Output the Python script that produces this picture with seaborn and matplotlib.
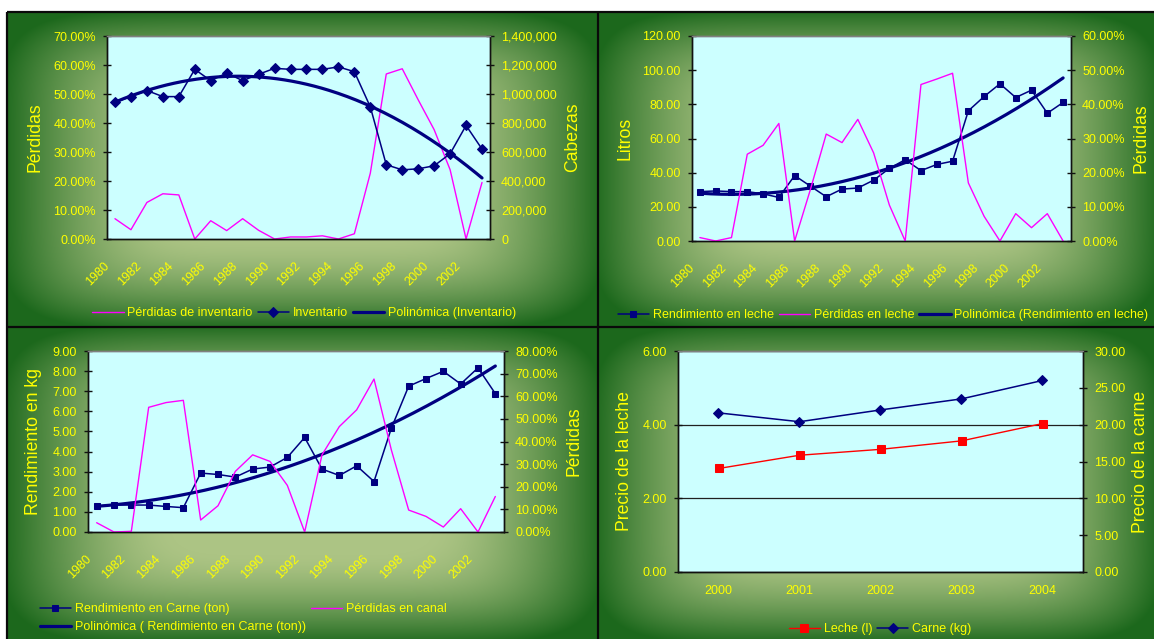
import numpy as np
import pandas as pd
import matplotlib
matplotlib.use("Agg")
import matplotlib.pyplot as plt
import seaborn as sns
from matplotlib.ticker import FixedLocator, PercentFormatter, FuncFormatter
from matplotlib.transforms import ScaledTranslation

# ---------------- data ----------------
years = list(range(1980, 2004))
inventario = [943000, 982000, 1024000, 982000, 982000, 1170000, 1092000, 1145000,
              1092000, 1136000, 1177000, 1170000, 1170000, 1170000, 1187000, 1154000,
              911000, 512000, 477000, 484000, 505000, 588000, 783000, 620000]
perdidas_inventario = [7.0, 3.2, 12.6, 15.6, 15.2, 0.0, 6.3, 2.9, 7.0, 3.0, 0.0, 0.7,
                       0.7, 1.1, 0.0, 1.8, 22.7, 56.9, 58.7, 48.0, 37.7, 23.9, 0.0, 19.5]
rend_leche = [28.9, 29.3, 28.9, 28.9, 27.6, 25.5, 38.3, 32.1, 25.9, 30.4, 31.0, 35.6,
              42.5, 47.6, 41.2, 44.8, 46.7, 76.2, 84.6, 92.0, 84.0, 88.3, 74.8, 81.1]
perdidas_leche = [1.0, 0.0, 1.0, 25.4, 28.0, 34.4, 0.0, 15.1, 31.3, 28.8, 35.6, 25.8,
                  10.5, 0.0, 45.8, 47.4, 49.1, 17.0, 7.2, 0.0, 8.0, 3.9, 8.0, 0.0]
rend_carne = [1.29, 1.34, 1.34, 1.34, 1.27, 1.21, 2.93, 2.86, 2.73, 3.13, 3.23, 3.71,
              4.70, 3.13, 2.81, 3.29, 2.51, 5.16, 7.25, 7.63, 7.99, 7.36, 8.16, 6.88]
perdidas_canal = [4.1, 0.0, 0.3, 55.1, 57.2, 58.2, 5.3, 11.6, 26.8, 34.1, 31.2, 20.6,
                  0.0, 34.1, 46.6, 54.0, 67.6, 36.3, 9.7, 6.9, 2.2, 10.3, 0.0, 15.7]
precio_years = [2000, 2001, 2002, 2003, 2004]
precio_leche = [2.81, 3.17, 3.33, 3.56, 4.03]
precio_carne = [21.6, 20.4, 22.0, 23.5, 26.0]

# ---------------- style ----------------
sns.set_style("white")
plt.rcParams["font.family"] = ["Liberation Sans", "DejaVu Sans"]

YEL = "#ffff00"
NAVY = "#000080"
PINK = "#ff00ff"
RED = "#ff0000"
PLOTBG = "#ccffff"

W, H = 1154, 639
fig = plt.figure(figsize=(W / 100, H / 100), dpi=100)

# ---------------- panel backgrounds ----------------
panels = [(7, 12, 598, 327), (598, 12, 1157, 327), (7, 327, 598, 642), (598, 327, 1157, 642)]
img = np.ones((H, W, 3))
yy, xx = np.mgrid[0:H, 0:W] + 0.5
light = np.array([172, 196, 132]) / 255
dark = np.array([28, 104, 28]) / 255
for (x0, y0, x1, y1) in panels:
    cx, cy = (x0 + x1) / 2, (y0 + y1) / 2
    hw, hh = (x1 - x0) / 2, (y1 - y0) / 2
    mask = (xx >= x0) & (xx < x1) & (yy >= y0) & (yy < y1)
    u = np.abs(xx - cx) / hw
    v = np.abs(yy - cy) / hh
    t = (u ** 6 + v ** 6) ** (1 / 6)
    s = np.clip((t - 0.45) / 0.57, 0, 1) ** 1.5
    col = light[None, None, :] * (1 - s[..., None]) + dark[None, None, :] * s[..., None]
    img[mask] = col[mask]

bg = fig.add_axes([0, 0, 1, 1], zorder=-10)
bg.imshow(img, extent=(0, W, H, 0), aspect="auto", interpolation="bilinear")
bg.set_xlim(0, W)
bg.set_ylim(H, 0)
bg.axis("off")
for (xa, ya, xb, yb) in [(7, 12, 7, H), (598, 12, 598, H), (7, 12, W, 12), (7, 327, W, 327)]:
    bg.plot([xa, xb], [ya, yb], color="#0a0a0a", lw=1.6, solid_capstyle="butt")


def px_axes(left, top, right, bottom):
    return fig.add_axes([left / W, 1 - bottom / H, (right - left) / W, (bottom - top) / H])


TICK_FS = 9
LAB_FS = 12.7
LEG_FS = 9


def style_axes(ax, ax2):
    ax.set_facecolor(PLOTBG)
    ax2.patch.set_visible(False)
    for a in (ax, ax2):
        for sp in a.spines.values():
            sp.set_color("#111111")
            sp.set_linewidth(1.0)
        a.spines["top"].set_color("#808080")
        a.tick_params(axis="y", direction="inout", length=6, width=1, color="#111111",
                      labelcolor=YEL, labelsize=TICK_FS, pad=5)
    ax.tick_params(axis="x", which="major", direction="inout", length=6, width=1,
                   color="#111111", labelbottom=False)
    ax2.tick_params(axis="x", which="both", bottom=False, labelbottom=False)


def year_axis(ax, n, labels, step, rotate=True):
    ax.set_xlim(-0.5, n - 0.5)
    ax.xaxis.set_major_locator(FixedLocator(np.arange(-0.5, n, 1.0)))
    ax.xaxis.set_minor_locator(FixedLocator(np.arange(0, n, step)))
    ax.set_xticklabels([str(labels[i]) for i in range(0, n, step)], minor=True)
    if rotate:
        ax.tick_params(axis="x", which="minor", length=0, labelcolor=YEL,
                       labelsize=TICK_FS, pad=15)
        for lab in ax.get_xticklabels(minor=True):
            lab.set_rotation(45)
            lab.set_ha("right")
            lab.set_va("top")
            lab.set_transform(lab.get_transform() + ScaledTranslation(-3 / 100, 0, fig.dpi_scale_trans))
    else:
        ax.tick_params(axis="x", which="minor", length=0, labelcolor=YEL,
                       labelsize=TICK_FS, pad=9.5)


def ylabels(ax, ax2, left_txt, right_txt, lx, rx):
    ax.set_ylabel(left_txt, color=YEL, fontsize=LAB_FS)
    ax2.set_ylabel(right_txt, color=YEL, fontsize=LAB_FS, rotation=90)
    ax.yaxis.set_label_coords(lx, 0.5)
    ax2.yaxis.set_label_coords(rx, 0.5)
    for lab in (ax.yaxis.label, ax2.yaxis.label):
        lab.set_va("center")
        lab.set_ha("center")
    ax.set_xlabel("")
    ax2.set_xlabel("")


def trend(x, y, deg=2, num=200):
    c = np.polyfit(x, y, deg)
    xf = np.linspace(x.min(), x.max(), num)
    return xf, np.polyval(c, xf)


pct_fmt = PercentFormatter(100, decimals=2)
f2 = FuncFormatter(lambda v, p: f"{v:.2f}")
comma = FuncFormatter(lambda v, p: f"{v:,.0f}")

pos = np.arange(len(years))
df = pd.DataFrame({"pos": pos, "anio": years, "inventario": inventario,
                   "perd_inv": perdidas_inventario, "leche": rend_leche,
                   "perd_leche": perdidas_leche, "carne": rend_carne,
                   "perd_canal": perdidas_canal})

LEG_KW = dict(loc="center", frameon=False, fontsize=LEG_FS, labelcolor=YEL,
              handlelength=2.5, handletextpad=0.3, columnspacing=0.4, borderpad=0,
              numpoints=1)

# ================= Panel 1: Inventario =================
ax = px_axes(107, 36, 490, 239)
ax2 = ax.twinx()
sns.lineplot(data=df, x="pos", y="perd_inv", ax=ax, color=PINK, lw=1.0)
h_p = ax.lines[-1]
sns.lineplot(data=df, x="pos", y="inventario", ax=ax2, color=NAVY, lw=1.1,
             marker="D", markersize=5.5, markeredgecolor=NAVY)
h_i = ax2.lines[-1]
tx, ty = trend(pos.astype(float), np.array(inventario, float), 2)
sns.lineplot(x=tx, y=ty, ax=ax2, color=NAVY, lw=2.3)
h_t = ax2.lines[-1]
ax.set_ylim(0, 70)
ax.set_yticks(np.arange(0, 71, 10))
ax.yaxis.set_major_formatter(pct_fmt)
ax2.set_ylim(0, 1400000)
ax2.set_yticks(np.arange(0, 1400001, 200000))
ax2.yaxis.set_major_formatter(comma)
style_axes(ax, ax2)
year_axis(ax, len(years), years, 2)
ylabels(ax, ax2, "Pérdidas", "Cabezas", -0.188, 1.217)
fig.legend([h_p, h_i, h_t], ["Pérdidas de inventario", "Inventario", "Polinómica (Inventario)"],
           bbox_to_anchor=(304 / W, 1 - 313 / H), ncol=3, **LEG_KW)

# ================= Panel 2: Leche =================
ax = px_axes(692, 36, 1071, 241)
ax2 = ax.twinx()
sns.lineplot(data=df, x="pos", y="leche", ax=ax, color=NAVY, lw=1.1,
             marker="s", markersize=5, markeredgecolor=NAVY)
h_l = ax.lines[-1]
tx, ty = trend(pos.astype(float), np.array(rend_leche, float), 2)
sns.lineplot(x=tx, y=ty, ax=ax, color=NAVY, lw=2.3)
h_t = ax.lines[-1]
sns.lineplot(data=df, x="pos", y="perd_leche", ax=ax2, color=PINK, lw=1.0)
h_p = ax2.lines[-1]
ax.set_ylim(0, 120)
ax.set_yticks(np.arange(0, 121, 20))
ax.yaxis.set_major_formatter(f2)
ax2.set_ylim(0, 60)
ax2.set_yticks(np.arange(0, 61, 10))
ax2.yaxis.set_major_formatter(pct_fmt)
style_axes(ax, ax2)
year_axis(ax, len(years), years, 2)
ylabels(ax, ax2, "Litros", "Pérdidas", -0.177, 1.185)
fig.legend([h_l, h_p, h_t], ["Rendimiento en leche", "Pérdidas en leche",
                             "Polinómica (Rendimiento en leche)"],
           bbox_to_anchor=(883 / W, 1 - 315 / H), ncol=3, **LEG_KW)

# ================= Panel 3: Carne =================
ax = px_axes(88, 351, 504, 532)
ax2 = ax.twinx()
sns.lineplot(data=df, x="pos", y="carne", ax=ax, color=NAVY, lw=1.1,
             marker="s", markersize=5, markeredgecolor=NAVY)
h_c = ax.lines[-1]
tx, ty = trend(pos.astype(float), np.array(rend_carne, float), 2)
sns.lineplot(x=tx, y=ty, ax=ax, color=NAVY, lw=2.3)
h_t = ax.lines[-1]
sns.lineplot(data=df, x="pos", y="perd_canal", ax=ax2, color=PINK, lw=1.0)
h_p = ax2.lines[-1]
ax.set_ylim(0, 9)
ax.set_yticks(np.arange(0, 9.1, 1))
ax.yaxis.set_major_formatter(f2)
ax2.set_ylim(0, 80)
ax2.set_yticks(np.arange(0, 81, 10))
ax2.yaxis.set_major_formatter(pct_fmt)
style_axes(ax, ax2)
year_axis(ax, len(years), years, 2)
ylabels(ax, ax2, "Rendimiento en kg", "Pérdidas", -0.13, 1.168)
fig.legend([h_c, h_t, h_p], ["Rendimiento en Carne (ton)",
                             "Polinómica ( Rendimiento en Carne (ton))", "Pérdidas en canal"],
           bbox_to_anchor=(243 / W, 1 - 618 / H), ncol=2, labelspacing=0.5, **LEG_KW)

# ================= Panel 4: Precios =================
pdf = pd.DataFrame({"pos": np.arange(len(precio_years)), "anio": precio_years,
                    "leche": precio_leche, "carne": precio_carne})
ax = px_axes(678, 351, 1083, 572)
ax2 = ax.twinx()
sns.lineplot(data=pdf, x="pos", y="leche", ax=ax, color=RED, lw=1.0,
             marker="s", markersize=6, markeredgecolor=RED)
h_l = ax.lines[-1]
sns.lineplot(data=pdf, x="pos", y="carne", ax=ax2, color=NAVY, lw=1.1,
             marker="D", markersize=5.5, markeredgecolor=NAVY)
h_c = ax2.lines[-1]
ax.set_ylim(0, 6)
ax.set_yticks(np.arange(0, 6.1, 2))
ax.yaxis.set_major_formatter(f2)
ax2.set_ylim(0, 30)
ax2.set_yticks(np.arange(0, 31, 5))
ax2.yaxis.set_major_formatter(f2)
style_axes(ax, ax2)
ax.grid(axis="y", color="#202020", lw=0.9)
ax.set_axisbelow(True)
year_axis(ax, len(precio_years), precio_years, 1, rotate=False)
ylabels(ax, ax2, "Precio de la leche", "Precio de la carne", -0.131, 1.143)
fig.legend([h_l, h_c], ["Leche (l)", "Carne (kg)"],
           bbox_to_anchor=(880 / W, 1 - 629 / H), ncol=2, **LEG_KW)

for a in fig.axes:
    lg = a.get_legend()
    if lg is not None:
        lg.remove()

fig.savefig("out.png", dpi=100)
